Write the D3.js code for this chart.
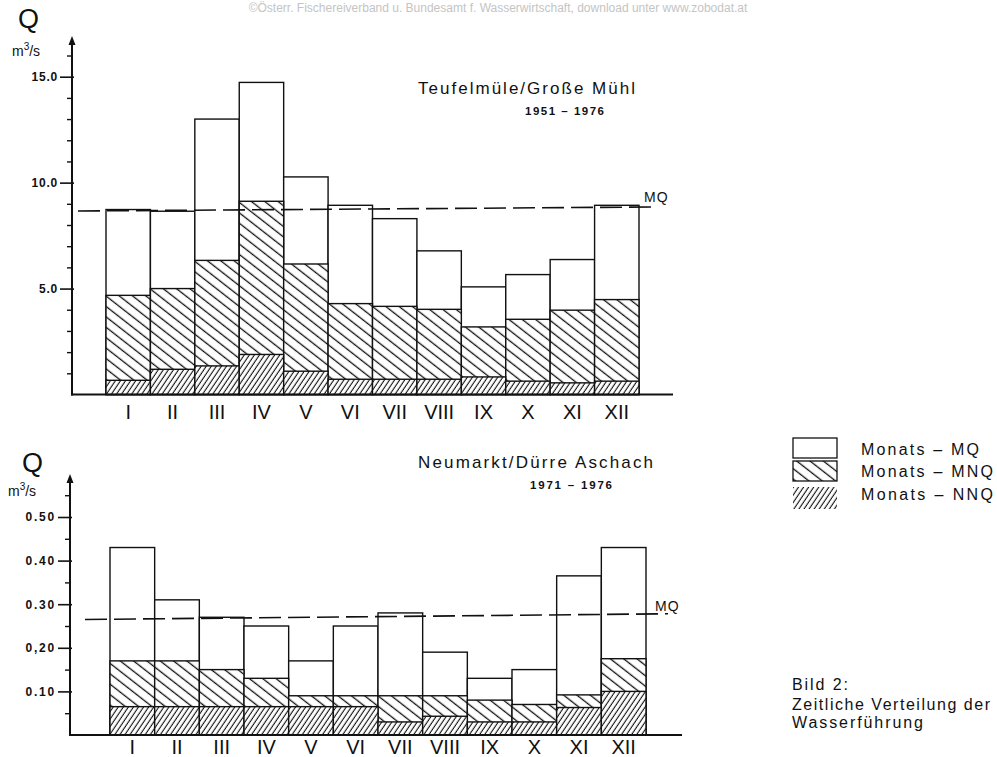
<!DOCTYPE html>
<html>
<head>
<meta charset="utf-8">
<script src="https://cdn.jsdelivr.net/npm/d3@7"></script>
<style>
  html, body { margin: 0; padding: 0; background: #fff; }
  svg { display: block; font-family: "Liberation Sans", Arial, sans-serif; }
</style>
</head>
<body>
<svg id="chart" width="997" height="757"></svg>
<script>
// ---------- data ----------
const months = ["I","II","III","IV","V","VI","VII","VIII","IX","X","XI","XII"];

// Teufelmüle / Große Mühl 1951–1976 (m³/s)
const topMQ  = [8.73, 8.65, 13.0, 14.73, 10.27, 8.93, 8.30, 6.78, 5.08, 5.66, 6.37, 8.93];
const topMNQ = [4.68, 5.00, 6.33, 9.12, 6.16, 4.29, 4.16, 4.02, 3.19, 3.55, 3.98, 4.48];
const topNNQ = [0.67, 1.19, 1.35, 1.89, 1.10, 0.72, 0.72, 0.72, 0.83, 0.63, 0.55, 0.63];
const topMQLine = [8.66, 8.85];           // dashed MQ line, left end / right end
const topMajorTicks = [5, 10, 15];
const topTickLabels = ["5.0", "10.0", "15.0"];
const topMinorTicks = [1,2,3,4,6,7,8,9,11,12,13,14,16];

// Neumarkt / Dürre Aschach 1971–1976 (m³/s)
const botMQ  = [0.43, 0.31, 0.27, 0.25, 0.17, 0.25, 0.28, 0.19, 0.13, 0.15, 0.365, 0.43];
const botMNQ = [0.17, 0.17, 0.15, 0.13, 0.09, 0.09, 0.09, 0.09, 0.08, 0.07, 0.092, 0.175];
const botNNQ = [0.065, 0.065, 0.065, 0.065, 0.065, 0.065, 0.03, 0.043, 0.03, 0.03, 0.063, 0.10];
const botMQLine = [0.265, 0.278];
const botMajorTicks = [0.1, 0.2, 0.3, 0.4, 0.5];
const botTickLabels = ["0.10", "0,20", "0.30", "0.40", "0.50"];
const botMinorTicks = [0.05, 0.15, 0.25, 0.35, 0.45, 0.55];

const legendLabels = ["Monats – MQ", "Monats – MNQ", "Monats – NNQ"];
const captionLines = ["Bild 2:", "Zeitliche Verteilung der", "Wasserführung"];
const watermark = "©Österr. Fischereiverband u. Bundesamt f. Wasserwirtschaft, download unter www.zobodat.at";

// ---------- drawing ----------
const ink = "#111";
const svg = d3.select("#chart");
const defs = svg.append("defs");

// MNQ hatch: "\" lines
const pM = defs.append("pattern").attr("id", "hMNQ")
  .attr("patternUnits", "userSpaceOnUse").attr("width", 10).attr("height", 8.2)
  .attr("patternTransform", "rotate(38)");
pM.append("rect").attr("width", 10).attr("height", 8.2).attr("fill", "#fff");
pM.append("line").attr("x1", 0).attr("x2", 10).attr("y1", 4).attr("y2", 4)
  .attr("stroke", ink).attr("stroke-width", 1.3);

// NNQ hatch: dense "/" lines
const pN = defs.append("pattern").attr("id", "hNNQ")
  .attr("patternUnits", "userSpaceOnUse").attr("width", 10).attr("height", 4.2)
  .attr("patternTransform", "rotate(-56)");
pN.append("rect").attr("width", 10).attr("height", 4.2).attr("fill", "#fff");
pN.append("line").attr("x1", 0).attr("x2", 10).attr("y1", 2).attr("y2", 2)
  .attr("stroke", ink).attr("stroke-width", 1.1);

// watermark
svg.append("text").attr("x", 498).attr("y", 12).attr("text-anchor", "middle")
  .attr("font-size", 12).attr("fill", "#c4c4c4").text(watermark);

function panel(cfg) {
  const g = svg.append("g");
  const x = d3.scaleBand().domain(months).range(cfg.xRange).padding(0);
  const y = d3.scaleLinear().domain([0, cfg.yMaxTick]).range([cfg.y0, cfg.yTop]);

  // bars
  const rows = months.map((m, i) => ({ m, mq: cfg.mq[i], mnq: cfg.mnq[i], nnq: cfg.nnq[i] }));
  const layers = [
    { key: "mq",  fill: "#fff" },
    { key: "mnq", fill: "url(#hMNQ)" },
    { key: "nnq", fill: "url(#hNNQ)" }
  ];
  layers.forEach(L => {
    g.append("g").selectAll("rect").data(rows).join("rect")
      .attr("x", d => x(d.m))
      .attr("width", x.bandwidth())
      .attr("y", d => y(d[L.key]))
      .attr("height", d => y(0) - y(d[L.key]))
      .attr("fill", L.fill)
      .attr("stroke", ink).attr("stroke-width", 1.4);
  });

  // MQ dashed line
  const lx = d3.scaleLinear().domain([0, 1]).range(cfg.mqX);
  const line = d3.line().x(d => lx(d[0])).y(d => y(d[1]));
  g.append("path").datum([[0, cfg.mqLine[0]], [1, cfg.mqLine[1]]])
    .attr("d", line).attr("fill", "none").attr("stroke", ink)
    .attr("stroke-width", 1.6).attr("stroke-dasharray", "22,7");
  g.append("text").attr("x", cfg.mqLabel[0]).attr("y", cfg.mqLabel[1])
    .attr("font-size", 14).attr("fill", ink).attr("letter-spacing", 1).text("MQ");

  // y axis: minor ticks
  const minor = d3.axisLeft(y).tickValues(cfg.minorTicks).tickSize(5).tickFormat("");
  const gMin = g.append("g").attr("transform", `translate(${cfg.axisX},0)`).call(minor);
  gMin.select(".domain").remove();
  gMin.selectAll("line").attr("stroke", ink).attr("stroke-width", 1.4);

  // y axis: major ticks with labels
  const major = d3.axisLeft(y).tickValues(cfg.majorTicks).tickSize(12).tickPadding(2)
    .tickFormat((d, i) => cfg.tickLabels[i]);
  const gMaj = g.append("g").attr("transform", `translate(${cfg.axisX},0)`).call(major);
  gMaj.select(".domain").remove();
  gMaj.selectAll("line").attr("stroke", ink).attr("stroke-width", 1.6).attr("x2", -12).attr("x1", 2);
  gMaj.selectAll("text").attr("font-family", "'Liberation Sans', Arial, sans-serif")
    .attr("font-size", 12).attr("font-weight", "bold").attr("fill", ink)
    .attr("letter-spacing", cfg.tickSpacing);

  // axis lines
  g.append("line").attr("x1", cfg.axisX).attr("x2", cfg.axisX)
    .attr("y1", y(0) + 1).attr("y2", cfg.arrowY + 4)
    .attr("stroke", ink).attr("stroke-width", 2);
  g.append("path")
    .attr("d", `M${cfg.axisX},${cfg.arrowY} l-3.5,9 l7,0 z`)
    .attr("fill", ink);
  g.append("line").attr("x1", cfg.axisX - 1).attr("x2", cfg.xAxisEnd)
    .attr("y1", y(0)).attr("y2", y(0))
    .attr("stroke", ink).attr("stroke-width", 2);

  // x labels (Roman numerals)
  const xa = d3.axisBottom(x).tickSize(0).tickPadding(0);
  const gx = g.append("g").attr("transform", `translate(0,${cfg.labelY})`).call(xa);
  gx.select(".domain").remove();
  gx.selectAll("text").attr("font-family", "'Liberation Sans Narrow', 'Liberation Sans', Arial, sans-serif")
    .attr("font-size", 20).attr("fill", ink).attr("dy", 0).attr("y", 0);

  // Q and unit
  g.append("text").attr("x", cfg.qPos[0]).attr("y", cfg.qPos[1])
    .attr("font-size", 27).attr("fill", ink).text("Q");
  const u = g.append("text").attr("x", cfg.unitPos[0]).attr("y", cfg.unitPos[1])
    .attr("font-size", 14).attr("fill", ink);
  u.append("tspan").text("m");
  u.append("tspan").attr("dy", -6).attr("font-size", 10).text("3");
  u.append("tspan").attr("dy", 6).text("/s");

  // titles
  g.append("text").attr("x", cfg.title[1]).attr("y", cfg.title[2])
    .attr("font-size", 17).attr("fill", ink)
    .attr("textLength", cfg.title[3]).attr("lengthAdjust", "spacing").text(cfg.title[0]);
  g.append("text").attr("x", cfg.sub[1]).attr("y", cfg.sub[2])
    .attr("font-size", 11.5).attr("font-weight", "bold").attr("fill", ink)
    .attr("textLength", cfg.sub[3]).attr("lengthAdjust", "spacing").text(cfg.sub[0]);
}

panel({
  mq: topMQ, mnq: topMNQ, nnq: topNNQ, mqLine: topMQLine,
  xRange: [106, 639], yMaxTick: 15, y0: 394.5, yTop: 76.7,
  axisX: 72, arrowY: 36, xAxisEnd: 673,
  majorTicks: topMajorTicks, tickLabels: topTickLabels, minorTicks: topMinorTicks, tickSpacing: 0.8,
  mqX: [78, 653], mqLabel: [644, 202],
  labelY: 419,
  qPos: [18, 28], unitPos: [12, 56],
  title: ["Teufelmüle/Große Mühl", 418, 94, 217],
  sub: ["1951 – 1976", 525, 115, 79]
});

panel({
  mq: botMQ, mnq: botMNQ, nnq: botNNQ, mqLine: botMQLine,
  xRange: [110, 646], yMaxTick: 0.5, y0: 735, yTop: 517,
  axisX: 70, arrowY: 474, xAxisEnd: 682,
  majorTicks: botMajorTicks, tickLabels: botTickLabels, minorTicks: botMinorTicks, tickSpacing: 1.8,
  mqX: [85, 668], mqLabel: [655, 611],
  labelY: 754,
  qPos: [22, 472], unitPos: [8, 496],
  title: ["Neumarkt/Dürre Aschach", 418, 468, 235],
  sub: ["1971 – 1976", 530, 489, 82]
});

// legend
const legendY = [438, 461, 487];
const legendH = [20, 20, 22];
const legendFill = ["#fff", "url(#hMNQ)", "url(#hNNQ)"];
const lg = svg.append("g");
legendLabels.forEach((t, i) => {
  lg.append("rect").attr("x", 793).attr("y", legendY[i]).attr("width", 44).attr("height", legendH[i])
    .attr("fill", legendFill[i]).attr("stroke", i < 2 ? ink : "none").attr("stroke-width", 1.3);
  lg.append("text").attr("x", 861).attr("y", [455, 477, 500][i])
    .attr("font-size", 16).attr("fill", ink)
    .attr("textLength", [118, 132, 132][i]).attr("lengthAdjust", "spacing").text(t);
});

// caption
const cap = svg.append("g");
captionLines.forEach((t, i) => {
  cap.append("text").attr("x", 792).attr("y", [690, 710, 728][i])
    .attr("font-size", 16).attr("fill", ink)
    .attr("textLength", [56, 198, 131][i]).attr("lengthAdjust", "spacing").text(t);
});
</script>
</body>
</html>
